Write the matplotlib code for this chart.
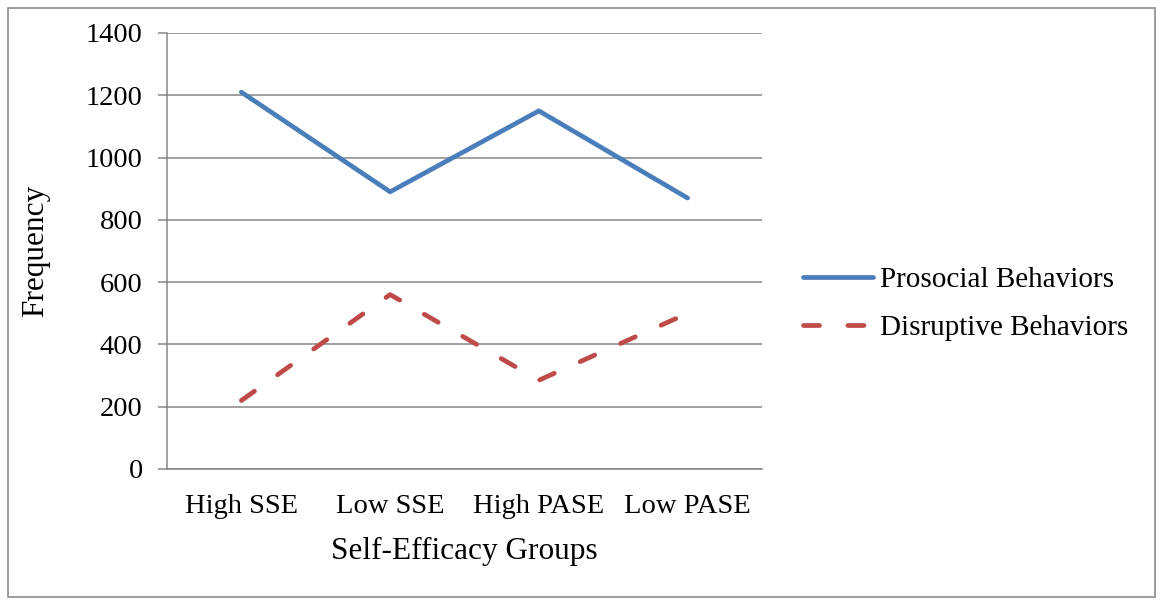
import matplotlib.pyplot as plt
from matplotlib.patches import Rectangle

# Frequency of behaviours per self-efficacy group
groups = ["High SSE", "Low SSE", "High PASE", "Low PASE"]
prosocial = [1210, 890, 1150, 870]
disruptive = [220, 560, 285, 500]

blue = "#4a7ebb"
red = "#be4b48"
grid_gray = "#868686"

plt.rcParams["font.family"] = ["Liberation Serif", "DejaVu Serif"]

fig = plt.figure(figsize=(11.63, 6.05), dpi=100)
ax = fig.add_axes([167 / 1163, 1 - 469 / 605, (762 - 167) / 1163, (469 - 33) / 605])

x = range(len(groups))
ax.plot(x, prosocial, color=blue, lw=3.4, solid_joinstyle="round",
        solid_capstyle="round", label="Prosocial Behaviors")
ax.plot(x, disruptive, color=red, lw=3.4, dashes=(3.4, 6.0),
        dash_capstyle="round", dash_joinstyle="round", label="Disruptive Behaviors")

ax.set_xlim(-0.5, len(groups) - 0.5)
ax.set_ylim(0, 1400)
ax.set_yticks(range(0, 1401, 200))
ax.set_xticks(list(x))
ax.set_xticklabels(groups)

ax.grid(axis="y", color=grid_gray, lw=1.1)
ax.set_axisbelow(True)
for side in ["top", "right"]:
    ax.spines[side].set_visible(False)
for side in ["left", "bottom"]:
    ax.spines[side].set_color(grid_gray)
    ax.spines[side].set_linewidth(1.1)

ax.tick_params(axis="y", length=6.5, width=1.1, color=grid_gray, labelsize=20.5, pad=11)
ax.tick_params(axis="x", length=0, labelsize=20.5, pad=18)

ax.set_xlabel("Self-Efficacy Groups", fontsize=22.5, labelpad=13)
ax.set_ylabel("Frequency", fontsize=22.5, labelpad=26)

fig.legend(loc="center left", bbox_to_anchor=(803 / 1163, 1 - 304 / 605),
           frameon=False, fontsize=21, handlelength=2.4, handletextpad=0.25,
           labelspacing=0.75, borderpad=0, borderaxespad=0)

# outer chart border
fig.patches.append(Rectangle((8 / 1163, 8 / 605), 1147 / 1163, 589 / 605,
                             transform=fig.transFigure, fill=False,
                             edgecolor="#8c8c8c", lw=1.2))

fig.savefig("out.png", dpi=100)
